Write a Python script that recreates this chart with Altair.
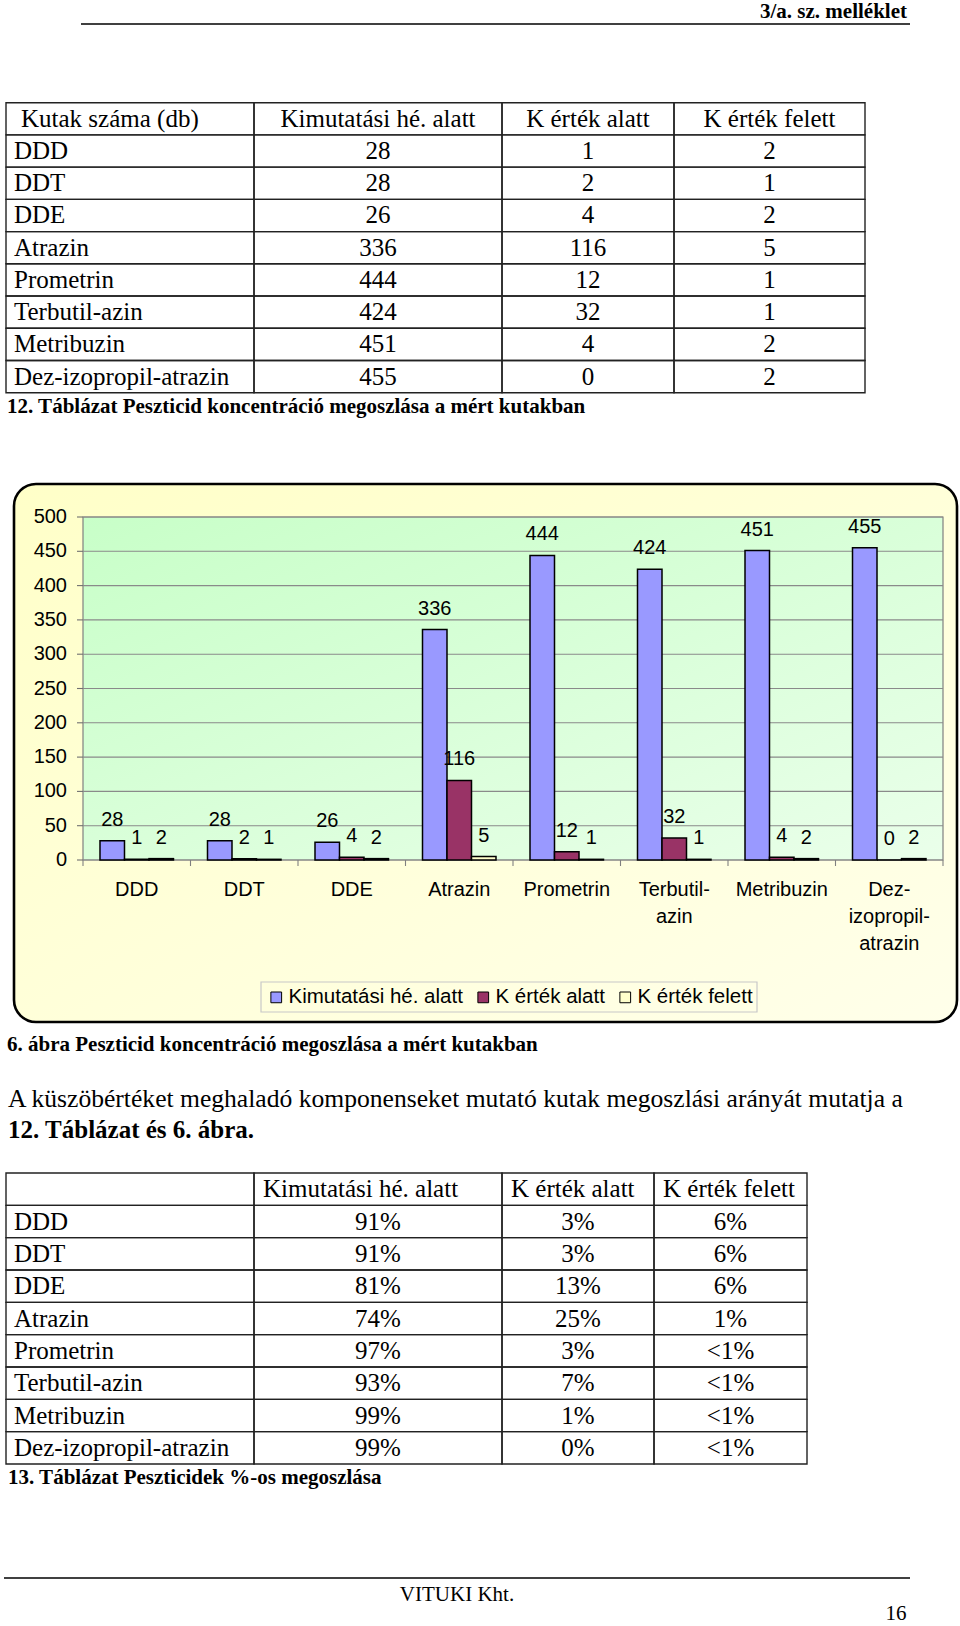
import altair as alt
import pandas as pd

# ---------------- data ----------------
substances = ["DDD", "DDT", "DDE", "Atrazin", "Prometrin", "Terbutil-azin",
              "Metribuzin", "Dez-izopropil-atrazin"]
axis_labels = ["DDD", "DDT", "DDE", "Atrazin", "Prometrin", "Terbutil-\nazin",
               "Metribuzin", "Dez-\nizopropil-\natrazin"]
series = ["Kimutatási hé. alatt", "K érték alatt", "K érték felett"]
kimutatasi = [28, 28, 26, 336, 444, 424, 451, 455]
k_alatt = [1, 2, 4, 116, 12, 32, 4, 0]
k_felett = [2, 1, 2, 5, 1, 1, 2, 2]
pct_kim = ["91%", "91%", "81%", "74%", "97%", "93%", "99%", "99%"]
pct_alatt = ["3%", "3%", "13%", "25%", "3%", "7%", "1%", "0%"]
pct_felett = ["6%", "6%", "6%", "1%", "<1%", "<1%", "<1%", "<1%"]
y_ticks = [0, 50, 100, 150, 200, 250, 300, 350, 400, 450, 500]
colors = ["#9999FF", "#993366", "#FFFFCC"]

SERIF = "Liberation Serif"
SANS = "Liberation Sans"

one = pd.DataFrame({"k": [0]})
layers = []


def static_text(text, x, y, size, bold=False, align="left", font=SERIF):
    return alt.Chart(one).mark_text(
        text=text, align=align, baseline="alphabetic", fontSize=size,
        fontWeight="bold" if bold else "normal", font=font, color="black"
    ).encode(x=alt.value(x), y=alt.value(y))


def hline(x1, x2, y, w=1.5):
    return alt.Chart(one).mark_rule(color="black", strokeWidth=w).encode(
        x=alt.value(x1), x2=alt.value(x2), y=alt.value(y))


# ---------------- page header ----------------
layers.append(static_text("3/a. sz. melléklet", 907, 18, 21, bold=True, align="right"))
layers.append(hline(81, 910, 24, 1.6))


# ---------------- tables ----------------
def make_table(header, names, cols, edges, top, bottom, header_mode):
    keys = ["__hdr__"] + names
    df = pd.DataFrame({
        "row": keys,
        "i": list(range(len(keys))),
        "c0": [header[0]] + names,
        "c1": [header[1]] + cols[0],
        "c2": [header[2]] + cols[1],
        "c3": [header[3]] + cols[2],
    })
    yscale = alt.Scale(domain=keys, range=[top, bottom], paddingInner=0, paddingOuter=0)
    ych = alt.Y("row:N", scale=yscale, axis=None)
    out = []
    for j in range(4):
        out.append(alt.Chart(df).mark_rect(fillOpacity=0, stroke="#222222", strokeWidth=1.4).encode(
            y=ych, x=alt.value(edges[j]), x2=alt.value(edges[j + 1])))
    for j in range(4):
        left, right = edges[j], edges[j + 1]
        if j == 0:
            x, al = left + 8, "left"
        else:
            x, al = (left + right) / 2, "center"
        out.append(alt.Chart(df).transform_filter("datum.i > 0").mark_text(
            align=al, baseline="alphabetic", dy=8, fontSize=25, font=SERIF, color="black"
        ).encode(y=ych, x=alt.value(x), text=f"c{j}:N"))
        if header[j]:
            if header_mode == "center" and j > 0:
                hx, hal = (left + right) / 2, "center"
            elif j == 0:
                hx, hal = left + 15, "left"
            else:
                hx, hal = left + 9, "left"
            out.append(alt.Chart(df).transform_filter("datum.i == 0").mark_text(
                align=hal, baseline="alphabetic", dy=8, fontSize=25, font=SERIF, color="black"
            ).encode(y=ych, x=alt.value(hx), text=f"c{j}:N"))
    return out


layers += make_table(["Kutak száma (db)"] + series, substances,
                     [[str(v) for v in kimutatasi], [str(v) for v in k_alatt], [str(v) for v in k_felett]],
                     [6, 254, 502, 674, 865], 102.7, 392.7, "center")
layers.append(static_text("12. Táblázat Peszticid koncentráció megoszlása a mért kutakban",
                          7, 413, 21, bold=True))

# ---------------- chart ----------------
outer_grad = alt.LinearGradient(gradient="linear", x1=0, x2=1, y1=0, y2=1,
                                stops=[alt.GradientStop(color="#FFFFC8", offset=0),
                                       alt.GradientStop(color="#FFFFEA", offset=1)])
plot_grad = alt.LinearGradient(gradient="linear", x1=0, x2=1, y1=0, y2=1,
                               stops=[alt.GradientStop(color="#C8FFC8", offset=0),
                                      alt.GradientStop(color="#EAFFEA", offset=1)])

layers.append(alt.Chart(one).mark_rect(cornerRadius=22, stroke="black", strokeWidth=2.6,
                                       fill=outer_grad).encode(
    x=alt.value(14), x2=alt.value(957), y=alt.value(484), y2=alt.value(1022)))
layers.append(alt.Chart(one).mark_rect(stroke="#808080", strokeWidth=1.2, fill=plot_grad).encode(
    x=alt.value(83), x2=alt.value(943), y=alt.value(517), y2=alt.value(860)))

yscale_c = alt.Scale(domain=[0, 500], range=[860, 517], nice=False, zero=True)
ticks_df = pd.DataFrame({"v": y_ticks})
layers.append(alt.Chart(ticks_df).mark_rule(color="#8a8a8a", strokeWidth=1.1).encode(
    y=alt.Y("v:Q", scale=yscale_c, axis=None), x=alt.value(83), x2=alt.value(943)))
layers.append(alt.Chart(ticks_df).mark_rule(color="#707070", strokeWidth=1.1).encode(
    y=alt.Y("v:Q", scale=yscale_c, axis=None), x=alt.value(77), x2=alt.value(83)))
layers.append(alt.Chart(ticks_df).mark_text(align="right", baseline="middle", fontSize=20,
                                            font=SANS, color="black").encode(
    y=alt.Y("v:Q", scale=yscale_c, axis=None), x=alt.value(67), text="v:Q"))

rows = []
for i, s in enumerate(substances):
    for ser, vals in zip(series, [kimutatasi, k_alatt, k_felett]):
        rows.append({"substance": s, "series": ser, "value": vals[i]})
bars_df = pd.DataFrame(rows)

xscale_bars = alt.Scale(domain=substances, range=[83, 943], paddingInner=0.3163, paddingOuter=0.1581)
xoff_scale = alt.Scale(domain=series, paddingInner=0, paddingOuter=0)

bars = alt.Chart(bars_df).mark_bar(stroke="black", strokeWidth=1.5).encode(
    x=alt.X("substance:N", scale=xscale_bars, axis=None),
    xOffset=alt.XOffset("series:N", scale=xoff_scale),
    y=alt.Y("value:Q", scale=yscale_c, axis=None),
    color=alt.Color("series:N", scale=alt.Scale(domain=series, range=colors), title=None,
                    legend=alt.Legend(orient="none", legendX=266, legendY=987,
                                      direction="horizontal", symbolType="square",
                                      symbolSize=115, symbolStrokeColor="black",
                                      symbolStrokeWidth=1, labelFont=SANS,
                                      labelFontSize=20.5, labelColor="black",
                                      labelLimit=400, labelOffset=2,
                                      columnPadding=10, padding=0)),
)
layers.append(alt.Chart(one).mark_rect(fillOpacity=0, stroke="#c8c8c8", strokeWidth=1.2).encode(
    x=alt.value(261), x2=alt.value(757), y=alt.value(982), y2=alt.value(1012)))
layers.append(bars)

# value labels: one layer per series, shifted from the group centre to its own bar
SUB_BAND = 73.5 / 3
for k, ser in enumerate(series):
    layers.append(alt.Chart(bars_df).transform_filter(
        alt.datum.series == ser).mark_text(
        baseline="alphabetic", dy=-15, dx=(k - 1) * SUB_BAND, fontSize=20, font=SANS,
        color="black").encode(
        x=alt.X("substance:N", scale=xscale_bars, axis=None),
        y=alt.Y("value:Q", scale=yscale_c, axis=None),
        text="value:Q",
    ))

cat_df = pd.DataFrame({"substance": substances, "label": axis_labels})
xscale_plain = alt.Scale(domain=substances, range=[83, 943], paddingInner=0, paddingOuter=0)
layers.append(alt.Chart(cat_df).mark_rule(color="#808080", strokeWidth=1.1).encode(
    x=alt.X("substance:N", scale=xscale_plain, axis=None, bandPosition=0),
    y=alt.value(860), y2=alt.value(866)))
layers.append(alt.Chart(cat_df).transform_filter(f"datum.substance == '{substances[-1]}'").mark_rule(
    color="#808080", strokeWidth=1.1).encode(
    x=alt.X("substance:N", scale=xscale_plain, axis=None, bandPosition=1),
    y=alt.value(860), y2=alt.value(866)))
layers.append(alt.Chart(cat_df).mark_text(baseline="top", lineBreak="\n", lineHeight=27,
                                          fontSize=20, font=SANS, color="black").encode(
    x=alt.X("substance:N", scale=xscale_plain, axis=None),
    y=alt.value(880), text="label:N"))

layers.append(static_text("6. ábra Peszticid koncentráció megoszlása a mért kutakban",
                          7, 1051, 21, bold=True))

# ---------------- paragraph ----------------
layers.append(static_text(
    "A küszöbértéket meghaladó komponenseket mutató kutak megoszlási arányát mutatja a",
    8, 1107, 25.6))
layers.append(static_text("12. Táblázat és 6. ábra.", 8, 1138, 25, bold=True))

# ---------------- table 2 ----------------
layers += make_table([""] + series, substances, [pct_kim, pct_alatt, pct_felett],
                     [6, 254, 502, 654, 807], 1173, 1464, "left")
layers.append(static_text("13. Táblázat Peszticidek %-os megoszlása", 8, 1484, 21, bold=True))

# ---------------- footer ----------------
layers.append(hline(4, 910, 1578, 1.6))
layers.append(static_text("VITUKI Kht.", 457, 1601, 21, align="center"))
layers.append(static_text("16", 896, 1620, 21, align="center"))

chart = alt.layer(*layers).resolve_scale(
    x="independent", y="independent", color="independent", xOffset="independent"
).properties(
    width=960, height=1626, padding=0,
    autosize=alt.AutoSizeParams(type="none"), background="white"
).configure_view(strokeWidth=0)

chart.save("out.html", embed_options={"renderer": "svg", "actions": False})
